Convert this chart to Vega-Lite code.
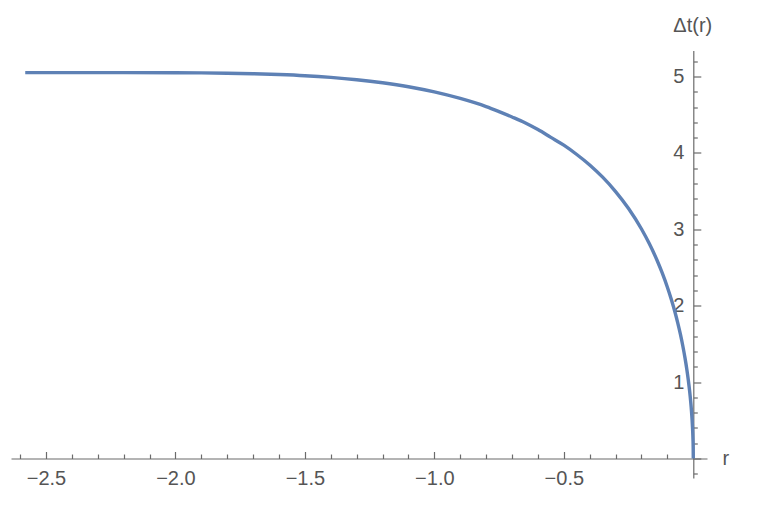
{
  "$schema": "https://vega.github.io/schema/vega-lite/v6.json",
  "width": 696,
  "height": 427.5,
  "autosize": {"type": "none"},
  "padding": {"left": 11, "top": 50.5, "right": 55, "bottom": 38},
  "config": {
    "view": {"stroke": null},
    "font": "Liberation Sans",
    "axis": {
      "grid": false,
      "domainColor": "#6b6b6b",
      "tickColor": "#6b6b6b",
      "labelColor": "#555555",
      "titleColor": "#555555",
      "labelFont": "Liberation Sans",
      "titleFont": "Liberation Sans",
      "labelFontSize": 20,
      "titleFontSize": 20,
      "titleFontWeight": "normal",
      "domainWidth": 1.2,
      "tickWidth": 1.2
    }
  },
  "data": {
    "values": [
      {"r": -2.58, "dt": 5.05},
      {"r": -2.4, "dt": 5.05},
      {"r": -2.2, "dt": 5.05},
      {"r": -2.0, "dt": 5.049},
      {"r": -1.9, "dt": 5.047},
      {"r": -1.8, "dt": 5.043},
      {"r": -1.7, "dt": 5.036},
      {"r": -1.6, "dt": 5.025},
      {"r": -1.5, "dt": 5.01},
      {"r": -1.4, "dt": 4.988},
      {"r": -1.3, "dt": 4.958},
      {"r": -1.2, "dt": 4.918},
      {"r": -1.1, "dt": 4.866},
      {"r": -1.0, "dt": 4.798},
      {"r": -0.9, "dt": 4.712},
      {"r": -0.8, "dt": 4.606},
      {"r": -0.75, "dt": 4.54},
      {"r": -0.7, "dt": 4.47},
      {"r": -0.65, "dt": 4.395},
      {"r": -0.6, "dt": 4.305},
      {"r": -0.55, "dt": 4.203},
      {"r": -0.5, "dt": 4.101},
      {"r": -0.45, "dt": 3.979},
      {"r": -0.4, "dt": 3.842},
      {"r": -0.35, "dt": 3.682},
      {"r": -0.3, "dt": 3.494},
      {"r": -0.25, "dt": 3.272},
      {"r": -0.2, "dt": 3.004},
      {"r": -0.17, "dt": 2.813},
      {"r": -0.14, "dt": 2.595},
      {"r": -0.12, "dt": 2.429},
      {"r": -0.1, "dt": 2.242},
      {"r": -0.085, "dt": 2.084},
      {"r": -0.07, "dt": 1.907},
      {"r": -0.06, "dt": 1.775},
      {"r": -0.05, "dt": 1.63},
      {"r": -0.04, "dt": 1.466},
      {"r": -0.032, "dt": 1.317},
      {"r": -0.025, "dt": 1.169},
      {"r": -0.019, "dt": 1.022},
      {"r": -0.014, "dt": 0.88},
      {"r": -0.01, "dt": 0.746},
      {"r": -0.007, "dt": 0.625},
      {"r": -0.0045, "dt": 0.502},
      {"r": -0.0025, "dt": 0.374},
      {"r": -0.0011, "dt": 0.249},
      {"r": -0.0003, "dt": 0.13},
      {"r": 0, "dt": 0}
    ]
  },
  "resolve": {"axis": {"x": "independent", "y": "independent"}},
  "layer": [
    {
      "mark": {"type": "line", "opacity": 0},
      "encoding": {
        "x": {
          "field": "r", "type": "quantitative",
          "scale": {"domain": [-2.635, 0.053], "nice": false, "zero": false},
          "axis": {
            "orient": "bottom", "offset": -19.48, "domain": false, "labels": false, "title": null,
            "values": [-2.6, -2.4, -2.3, -2.2, -2.1, -1.9, -1.8, -1.7, -1.6, -1.4, -1.3, -1.2, -1.1, -0.9, -0.8, -0.7, -0.6, -0.4, -0.3, -0.2, -0.1],
            "tickSize": -4.5
          }
        },
        "y": {
          "field": "dt", "type": "quantitative",
          "scale": {"domain": [-0.255, 5.34], "nice": false, "zero": false},
          "axis": {
            "orient": "left", "offset": -682.3, "domain": false, "labels": false, "title": null,
            "values": [-0.2, 0.2, 0.4, 0.6, 0.8, 1.2, 1.4, 1.6, 1.8, 2.2, 2.4, 2.6, 2.8, 3.2, 3.4, 3.6, 3.8, 4.2, 4.4, 4.6, 4.8, 5.2],
            "tickSize": -4
          }
        }
      }
    },
    {
      "mark": {"type": "line", "color": "#5E81B5", "strokeWidth": 3.4, "interpolate": "monotone"},
      "encoding": {
        "x": {
          "field": "r", "type": "quantitative",
          "scale": {"domain": [-2.635, 0.053], "nice": false, "zero": false},
          "axis": {
            "orient": "bottom", "offset": -19.48,
            "values": [-2.5, -2.0, -1.5, -1.0, -0.5, 0],
            "format": ".1f",
            "labelExpr": "datum.value === 0 ? '' : datum.label",
            "tickSize": -7,
            "labelPadding": 27,
            "labelBaseline": "middle",
            "title": "r",
            "titleAngle": 0,
            "titleAlign": "left",
            "titleBaseline": "middle",
            "titleX": 711,
            "titleY": 0
          }
        },
        "y": {
          "field": "dt", "type": "quantitative",
          "scale": {"domain": [-0.255, 5.34], "nice": false, "zero": false},
          "axis": {
            "orient": "left", "offset": -682.3,
            "values": [0, 1, 2, 3, 4, 5],
            "format": "d",
            "labelExpr": "datum.value === 0 ? '' : datum.label",
            "tickSize": -7.5,
            "labelPadding": 17,
            "labelAlign": "right",
            "title": "Δt(r)",
            "titleAngle": 0,
            "titleAlign": "center",
            "titleBaseline": "middle",
            "titleX": -1,
            "titleY": -25.5
          }
        }
      }
    }
  ]
}
